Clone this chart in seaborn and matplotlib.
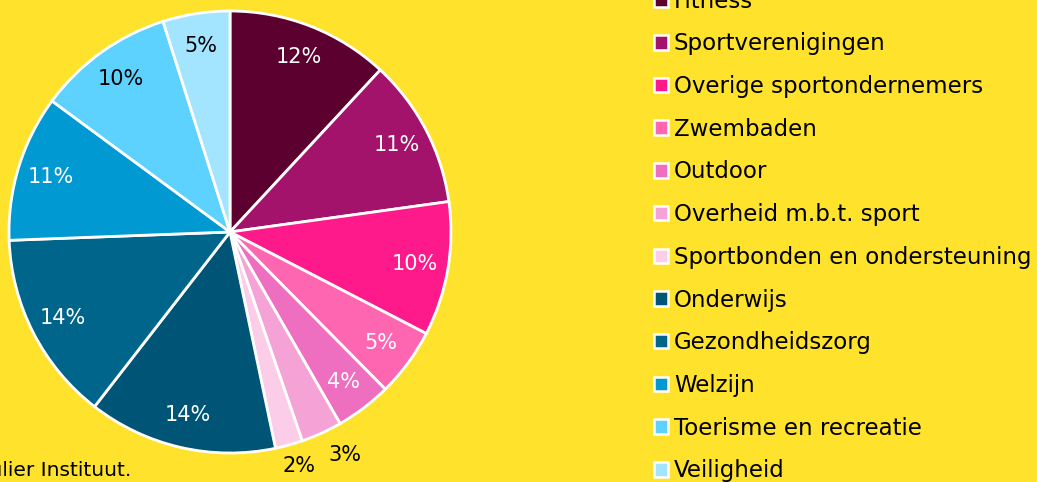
import matplotlib.pyplot as plt
import seaborn as sns
from matplotlib.patches import Patch

# shares per sector (percent)
sectors = ["Fitness", "Sportverenigingen", "Overige sportondernemers", "Zwembaden",
           "Outdoor", "Overheid m.b.t. sport", "Sportbonden en ondersteuning",
           "Onderwijs", "Gezondheidszorg", "Welzijn", "Toerisme en recreatie",
           "Veiligheid"]
shares = [11.9, 10.9, 9.8, 5.0, 4.1, 3.0, 2.0, 13.8, 13.9, 10.7, 10.0, 4.9]
colors = ["#5c0030", "#a3136c", "#ff1a8c", "#ff66b2", "#ee6fc0", "#f5a3d6",
          "#fbcde8", "#005577", "#00658b", "#0099d1", "#5dd2ff", "#a3e4ff"]
label_colors = ["white"] * 5 + ["black"] * 2 + ["white"] * 3 + ["black"] * 2

sns.set_theme(style="white")
plt.rcParams["font.family"] = ["DejaVu Sans"]

bg = "#ffe22b"
fig = plt.figure(figsize=(10.37, 4.82), dpi=100)
fig.patch.set_facecolor(bg)

ax = fig.add_axes([9 / 1037, 29 / 482, 442 / 1037, 442 / 482])
ax.set_facecolor(bg)

wedges, texts, autotexts = ax.pie(
    shares, colors=colors, startangle=90, counterclock=False,
    autopct="%.0f%%", pctdistance=0.85,
    wedgeprops=dict(edgecolor="white", linewidth=2),
    textprops=dict(fontsize=15))
ax.set_xlim(-1, 1)
ax.set_ylim(-1, 1)
ax.set_aspect("equal")

for t, c in zip(autotexts, label_colors):
    t.set_color(c)
    t.set_clip_on(False)
# the two thin slices get their labels outside
autotexts[5].set_position((0.52, -1.01))
autotexts[6].set_position((0.31, -1.06))

handles = [Patch(facecolor=c, edgecolor="white", linewidth=1.8) for c in colors]
fig.legend(handles, sectors, loc="center left",
           bbox_to_anchor=(643 / 1037, 1 - 236 / 482),
           frameon=False, fontsize=16.5, labelspacing=0.86,
           handlelength=0.6, handleheight=0.6, handletextpad=0.25,
           borderpad=0, labelcolor="black")

fig.text(131 / 1037, 1 - 470 / 482, "Bron: Mulier Instituut.", ha="right",
         va="center", fontsize=14.5, color="black")

fig.savefig("out.png", dpi=100, facecolor=bg)
